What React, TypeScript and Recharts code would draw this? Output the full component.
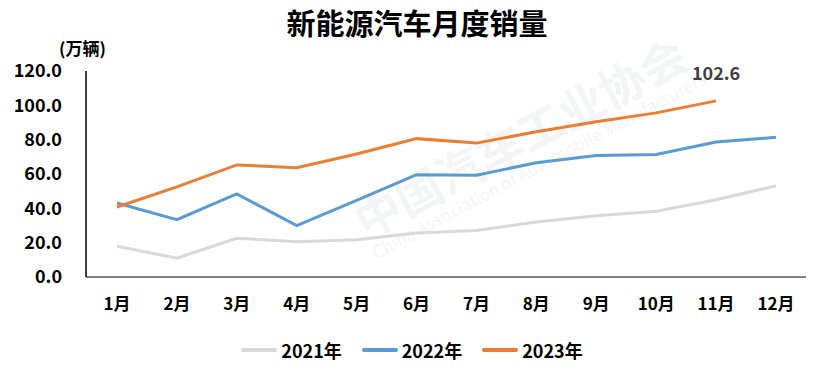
import { LineChart, Line, XAxis, YAxis, Legend, LabelList } from "recharts";

const months = ["1月", "2月", "3月", "4月", "5月", "6月", "7月", "8月", "9月", "10月", "11月", "12月"];
const sales2021 = [17.9, 11.0, 22.6, 20.6, 21.7, 25.6, 27.1, 32.1, 35.7, 38.3, 45.0, 53.1];
const sales2022 = [43.1, 33.4, 48.4, 29.9, 44.7, 59.6, 59.3, 66.6, 70.8, 71.4, 78.6, 81.4];
const sales2023 = [40.8, 52.5, 65.3, 63.6, 71.7, 80.6, 78.0, 84.6, 90.4, 95.6, 102.6, null];
const yTicks = [0, 20, 40, 60, 80, 100, 120];

const FONT = "'Noto Sans CJK SC', 'Noto Sans', sans-serif";

const seriesList = [
    { key: "y2021", name: "2021年", color: "#d9d9d9" },
    { key: "y2022", name: "2022年", color: "#5b9bd5" },
    { key: "y2023", name: "2023年", color: "#ed7d31" },
];

const data = months.map((m, i) => ({
    month: m,
    y2021: sales2021[i],
    y2022: sales2022[i],
    y2023: sales2023[i],
}));

// only label the latest 2023 point
const LastLabel = (props: any) => {
    const { x, y, value, index } = props;
    if (index !== 10) return null;
    return (
        <text x={x} y={y - 21} textAnchor="middle" fill="#404040" fontSize={18} fontWeight={700} fontFamily={FONT}>
            {value}
        </text>
    );
};

const CustomLegend = () => (
    <div
        style={{
            display: "flex",
            justifyContent: "center",
            fontFamily: FONT,
            fontWeight: 700,
            fontSize: 18,
            height: 24,
            lineHeight: "24px",
            paddingLeft: 18,
        }}
    >
        {seriesList.map((s) => (
            <div key={s.key} style={{ display: "flex", alignItems: "center", margin: "0 10px" }}>
                <span style={{ display: "inline-block", width: 36, height: 4, borderRadius: 2, background: s.color, marginRight: 4 }} />
                <span style={{ color: "#000" }}>{s.name}</span>
            </div>
        ))}
    </div>
);

const Watermark = () => (
    <div style={{ position: "absolute", left: 0, top: 0, width: 840, height: 372, pointerEvents: "none", overflow: "hidden" }}>
        <div
            style={{
                position: "absolute",
                left: 345,
                top: 200,
                transform: "rotate(-28deg)",
                transformOrigin: "left top",
                color: "rgba(200,205,215,0.22)",
                fontFamily: FONT,
                fontWeight: 700,
                fontSize: 46,
                whiteSpace: "nowrap",
                lineHeight: 1.1,
            }}
        >
            中国汽车工业协会
            <div style={{ fontSize: 17, fontWeight: 400 }}>China Association of Automobile Manufacturers</div>
        </div>
    </div>
);

export default function App() {
    return (
        <div style={{ position: "absolute", left: 0, top: 0, width: 840, height: 372, background: "#fff" }}>
            <Watermark />
            <div
                style={{
                    position: "absolute",
                    left: 0,
                    top: 1,
                    width: 840,
                    textAlign: "center",
                    fontFamily: FONT,
                    fontWeight: 700,
                    fontSize: 29,
                    color: "#000",
                    paddingRight: 6,
                    boxSizing: "border-box",
                }}
            >
                新能源汽车月度销量
            </div>
            <div
                style={{
                    position: "absolute",
                    left: 59,
                    top: 35,
                    fontFamily: FONT,
                    fontWeight: 700,
                    fontSize: 17,
                    color: "#000",
                }}
            >
                (万辆)
            </div>
            <div style={{ position: "absolute", left: 0, top: 0 }}>
                <LineChart width={840} height={372} data={data} margin={{ top: 71, right: 34, bottom: 41, left: 0 }}>
                    <XAxis
                        dataKey="month"
                        height={30}
                        padding={{ left: 31, right: 30 }}
                        axisLine={{ stroke: "#595959", strokeWidth: 1.5 }}
                        tickLine={false}
                        tickSize={0}
                        tickMargin={21}
                        tick={{ fill: "#000", fontSize: 17, fontWeight: 700, fontFamily: FONT }}
                    />
                    <YAxis
                        width={86}
                        domain={[0, 120]}
                        ticks={yTicks}
                        interval={0}
                        axisLine={{ stroke: "#000", strokeWidth: 1.5 }}
                        tickLine={false}
                        tickSize={0}
                        tickMargin={24}
                        tickFormatter={(v: number) => v.toFixed(1)}
                        tick={{ fill: "#000", fontSize: 18, fontWeight: 700, fontFamily: FONT }}
                    />
                    <Legend verticalAlign="bottom" wrapperStyle={{ bottom: 10 }} content={<CustomLegend />} />
                    {seriesList.map((s) => (
                        <Line
                            key={s.key}
                            type="linear"
                            dataKey={s.key}
                            name={s.name}
                            stroke={s.color}
                            strokeWidth={3}
                            dot={false}
                            activeDot={false}
                            isAnimationActive={false}
                        >
                            {s.key === "y2023" && <LabelList dataKey="y2023" content={<LastLabel />} />}
                        </Line>
                    ))}
                </LineChart>
            </div>
        </div>
    );
}
